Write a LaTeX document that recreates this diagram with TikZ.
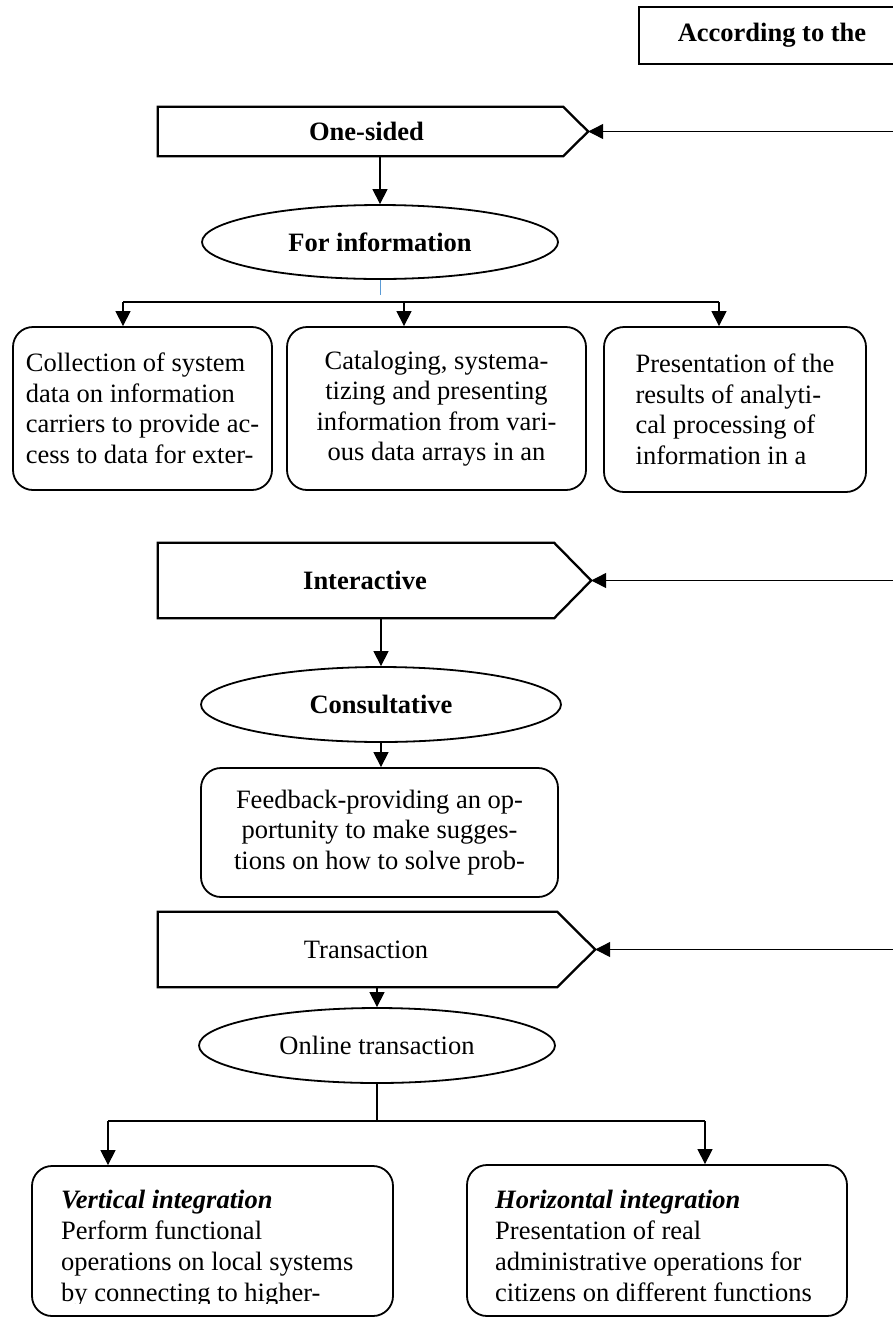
\documentclass[tikz,border=0pt]{standalone}
\usepackage{fontspec}
\setmainfont{Liberation Serif}
\usetikzlibrary{arrows.meta,shapes.geometric}
\definecolor{stubblue}{RGB}{91,155,213}
\newcommand\dfs{\fontsize{26.5}{30.5}\selectfont}
\newcommand\dfsb{\fontsize{26.5}{31}\selectfont}
\begin{document}
\begin{tikzpicture}[x=1pt,y=-1pt,
  every node/.style={font=\dfs, inner sep=0pt},
  pent/.style={draw, line width=2.3pt, line join=miter},
  plbl/.style={font=\dfs\bfseries},
  plain/.style={font=\dfs},
  oval/.style={draw, ellipse, line width=1.8pt},
  rbox/.style={draw, rounded corners=20pt, line width=1.8pt},
  hdr/.style={draw, line width=1.8pt, font=\dfs\bfseries},
  txt/.style={font=\dfsb, align=left, inner sep=0pt},
  conn/.style={line width=1.2pt},
  arr/.style={conn, -{Triangle[length=15pt,width=15pt]}}]
\useasboundingbox (0,0) rectangle (893,1318);

% header
\node[hdr, minimum width=266pt, minimum height=57pt] (acc) at (772,35.5) {According to the};

% One-sided
\node[plbl, minimum width=405pt, minimum height=49pt] (os) at (360.5,131.5) {\hspace*{12pt}One-sided};
\coordinate (os-tip) at ([xshift=25pt]os.east);
\draw[pent] (os.north west) -- (os.north east) -- (os-tip) -- (os.south east) -- (os.south west) -- cycle;
\coordinate (r1) at (900,131.5);
\draw[arr] (r1) -- (os-tip);

\node[oval, plbl, minimum width=356pt, minimum height=74pt] (fi) at (380,242) {For information};
\draw[arr] (fi.north |- os.south) -- (fi.north);
\draw[line width=0.8pt, stubblue] (fi.south) -- ++(0,15);

\node[rbox, minimum width=259pt, minimum height=163pt, align=left] (b1) at (142.5,408.5)
  {Collection of system\\data on information\\carriers to provide ac-\\cess to data for exter-};
\node[rbox, minimum width=299pt, minimum height=163pt, align=center] (b2) at (436.5,408.5)
  {Cataloging, systema-\\tizing and presenting\\information from vari-\\ous data arrays in an};
\node[rbox, minimum width=262pt, minimum height=165pt, align=left] (b3) at (735,409.5)
  {Presentation of the\\results of analyti-\\cal processing of\\information in a};

\coordinate (j1) at (123,302);
\coordinate (j2) at (404,302);
\coordinate (j3) at (719,302);
\draw[conn] (j1) -- (j3);
\draw[arr] (j1) -- (j1 |- b1.north);
\draw[arr] (j2) -- (j2 |- b2.north);
\draw[arr] (j3) -- (j3 |- b3.north);

% Interactive
\node[plbl, minimum width=396pt, minimum height=75pt] (ia) at (356,580.5) {\hspace*{18pt}Interactive};
\coordinate (ia-tip) at ([xshift=37pt]ia.east);
\draw[pent] (ia.north west) -- (ia.north east) -- (ia-tip) -- (ia.south east) -- (ia.south west) -- cycle;
\coordinate (r2) at (900,580.5);
\draw[arr] (r2) -- (ia-tip);

\node[oval, plbl, minimum width=360pt, minimum height=75pt] (cs) at (381,704.5) {Consultative};
\draw[arr] (cs.north |- ia.south) -- (cs.north);

\node[rbox, minimum width=357pt, minimum height=129pt, align=center] (fb) at (379.5,832.5)
  {Feedback-providing an op-\\portunity to make sugges-\\tions on how to solve prob-};
\draw[arr] (cs.south) -- (cs.south |- fb.north);

% Transaction
\node[plain, minimum width=399pt, minimum height=75pt] (tr) at (357.5,949.5) {\hspace*{17pt}Transaction};
\coordinate (tr-tip) at ([xshift=38pt]tr.east);
\draw[pent] (tr.north west) -- (tr.north east) -- (tr-tip) -- (tr.south east) -- (tr.south west) -- cycle;
\coordinate (r3) at (900,949.5);
\draw[arr] (r3) -- (tr-tip);

\node[oval, plain, minimum width=356pt, minimum height=75pt] (ot) at (377,1045.5) {Online transaction};
\draw[arr] (ot.north |- tr.south) -- (ot.north);

\node[rbox, minimum width=361pt, minimum height=150pt] (vb) at (212.5,1241) {};
\node[rbox, minimum width=380pt, minimum height=151pt] (hb) at (657,1240.5) {};

\coordinate (k0) at (377,1121);
\coordinate (k1) at (108,1121);
\coordinate (k2) at (705,1121);
\draw[conn] (ot.south) -- (k0);
\draw[conn] (k1) -- (k2);
\draw[arr] (k1) -- (k1 |- vb.north);
\draw[arr] (k2) -- (k2 |- hb.north);

\begin{scope}
\clip (0,0) rectangle (893,1303);
\node[txt, anchor=north west] (vt) at (61,1190)
  {\textbf{\textit{Vertical integration}}\\Perform functional\\operations on local systems\\by connecting to higher-};
\end{scope}
\node[txt, anchor=north west] (ht) at (495,1190)
  {\textbf{\textit{Horizontal integration}}\\Presentation of real\\administrative operations for\\citizens on different functions};
\end{tikzpicture}
\end{document}
